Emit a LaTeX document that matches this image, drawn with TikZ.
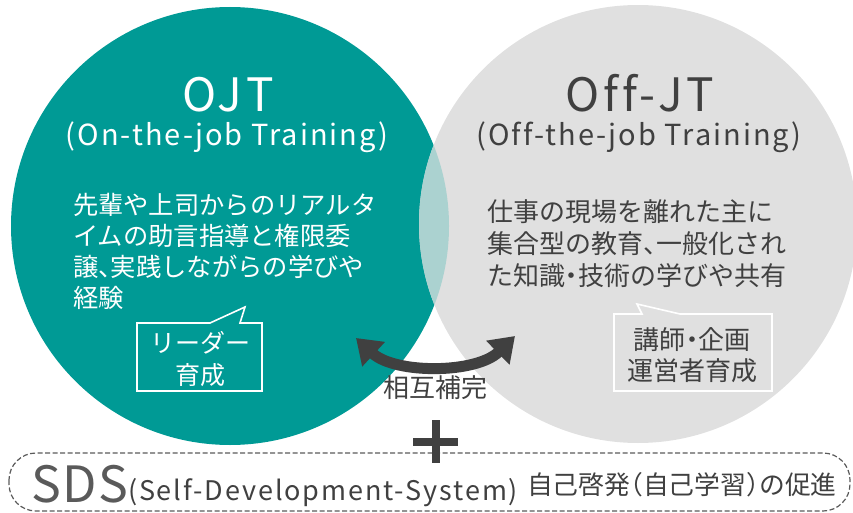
\documentclass[tikz,border=0pt]{standalone}
\usepackage{fontspec}
\setmainfont[RawFeature=+halt]{Noto Sans CJK JP}
\newfontfamily\latf[Ligatures=NoCommon, LetterSpace=8]{Noto Sans CJK JP}
\newfontfamily\latsf[Ligatures=NoCommon, LetterSpace=7]{Noto Sans CJK JP}
\newfontfamily\latbf[Ligatures=NoCommon, LetterSpace=3]{Noto Sans CJK JP}
\usetikzlibrary{arrows.meta}
\definecolor{tealc}{HTML}{009A95}
\definecolor{greyc}{HTML}{E0E0E0}
\definecolor{mixc}{HTML}{ABD2D0}
\definecolor{darkc}{HTML}{404040}
\definecolor{sdsc}{HTML}{5A5A5A}
\tikzset{
  txt/.style={inner sep=0pt, outer sep=0pt},
  fs/.style={font=\fontsize{#1}{#1}\selectfont},
  lfs/.style={font=\latf\fontsize{#1}{#1}\selectfont},
  sfs/.style={font=\latsf\fontsize{#1}{#1}\selectfont},
  bfs/.style={font=\latbf\fontsize{#1}{#1}\selectfont},
  callout/.style={draw=white, line width=1.6pt, line join=miter},
}
\begin{document}
\begin{tikzpicture}[x=1pt,y=-1pt]
\useasboundingbox (0,0) rectangle (853,513);
\begin{scope}
  \clip (0,0) rectangle (853,513);
  \fill[tealc] (230,226) circle[radius=219pt];
  \fill[greyc] (638,224) circle[radius=219pt];
  \begin{scope}
    \clip (638,224) circle[radius=219pt];
    \fill[mixc] (230,226) circle[radius=219pt];
  \end{scope}
\end{scope}

% titles
\node[txt, lfs=46, text=white, anchor=base] (ojt) at (228,112) {OJT};
\node[txt, sfs=29, text=white, anchor=base] (ojtsub) at (227,146) {(On-the-job Training)};
\node[txt, lfs=46, text=darkc, anchor=base] (offjt) at (640,112) {Off-JT};
\node[txt, sfs=29, text=darkc, anchor=base] (offsub) at (639,146) {(Off-the-job Training)};

% left body
\node[txt, fs=25.3, text=white, anchor=base west] (l1) at (73,214) {先輩や上司からのリアルタ};
\node[txt, fs=25.3, text=white, anchor=base west] (l2) at (73,245) {イムの助言指導と権限委};
\node[txt, fs=25.3, text=white, anchor=base west] (l3) at (73,276) {譲、実践しながらの学びや};
\node[txt, fs=25.3, text=white, anchor=base west] (l4) at (73,307) {経験};

% right body
\node[txt, fs=26, text=darkc, anchor=base west] (r1) at (487,221) {仕事の現場を離れた主に};
\node[txt, fs=26, text=darkc, anchor=base west] (r2) at (487,253) {集合型の教育、一般化され};
\node[txt, fs=26, text=darkc, anchor=base west] (r3) at (487,285) {た知識・技術の学びや共有};

% left callout
\draw[callout] (137,323) -- (210,323) -- (245,307) -- (240,323) -- (262,323) -- (262,391) -- (137,391) -- cycle;
\node[txt, fs=25, text=white, anchor=base] (c1a) at (200,352) {リーダー};
\node[txt, fs=25, text=white, anchor=base] (c1b) at (200,384) {育成};

% right callout
\draw[callout] (614,314) -- (642,314) -- (637,304) -- (680,314) -- (772,314) -- (772,391) -- (614,391) -- cycle;
\node[txt, fs=26, text=darkc, anchor=base] (c2a) at (692,349) {講師・企画};
\node[txt, fs=26, text=darkc, anchor=base] (c2b) at (692,380) {運営者育成};

% double arrow
\coordinate (al) at (356,338);
\coordinate (ar) at (515,336);
\draw[darkc, line width=11pt, {Triangle[length=24pt,width=32pt]}-{Triangle[length=24pt,width=32pt]}]
  (al) .. controls (395,374) and (476,374) .. (ar);
\node[txt, fs=26, text=darkc, anchor=base] (mut) at (435,397) {相互補完};

% SDS box
\draw[sdsc, line width=1.2pt, dash pattern=on 5pt off 2.5pt, rounded corners=27pt] (9,453) rectangle (850,511);

% plus
\fill[darkc] (413,438) rectangle (458,446);
\fill[darkc] (432,420) rectangle (440,463);

\node[txt, bfs=50, text=sdsc, anchor=base west] (sds) at (31,502) {SDS};
\node[txt, sfs=27, text=darkc, anchor=base west] (sdssub) at (128,500) {(Self-Development-System)};
\node[txt, fs=25.8, text=darkc, anchor=base west] (sdsjp) at (527,494) {自己啓発（自己学習）の促進};
\end{tikzpicture}
\end{document}
